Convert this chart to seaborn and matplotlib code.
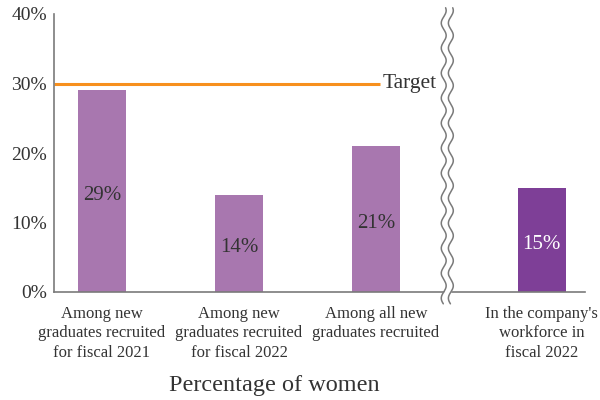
import numpy as np
import pandas as pd
import matplotlib
matplotlib.use("Agg")
import matplotlib.pyplot as plt
import seaborn as sns

categories = [
    "Among new\ngraduates recruited\nfor fiscal 2021",
    "Among new\ngraduates recruited\nfor fiscal 2022",
    "Among all new\ngraduates recruited",
    "In the company's\nworkforce in\nfiscal 2022",
]
values = [29, 14, 21, 15]
target = 30
yticks = [0, 10, 20, 30, 40]
xlabel = "Percentage of women"

light = "#A877AF"
dark = "#7E3F97"
orange = "#F7901E"
axis_gray = "#7a7a7a"
bar_colors = [light, light, light, dark]
text_colors = ["#333333", "#333333", "#333333", "white"]

sns.set_theme(style="white")
plt.rcParams["font.family"] = ["Liberation Serif", "DejaVu Serif"]

# slot positions: the last bar sits past the axis break
slots = [0, 1, 2, 3.21]
df = pd.DataFrame({"slot": slots, "value": values, "cat": categories})

fig = plt.figure(figsize=(6, 4), dpi=100)
ax = fig.add_axes([0.09, 0.27, 0.885, 0.695])

sns.barplot(data=df, x="slot", y="value", hue="cat", palette=bar_colors,
            native_scale=True, width=0.35, legend=False, ax=ax,
            saturation=1, edgecolor="none")

ax.set_xlim(-0.35, 3.525)
ax.set_ylim(0, 40)
ax.set_yticks(yticks)
ax.set_yticklabels([f"{t}%" for t in yticks], fontsize=14, color="#333333")
ax.set_xticks(slots)
ax.set_xticklabels(categories, fontsize=12, color="#333333", linespacing=1.3)
ax.tick_params(axis="y", length=0, pad=5)
ax.tick_params(axis="x", length=0, pad=10)
ax.set_xlabel("")
ax.set_ylabel("")
fig.text(274 / 600, 1 - 385 / 400, xlabel, ha="center", va="center",
         fontsize=17.5, color="#333333")

for side in ["top", "right"]:
    ax.spines[side].set_visible(False)
for side in ["left", "bottom"]:
    ax.spines[side].set_color(axis_gray)
    ax.spines[side].set_linewidth(1.2)

# value labels inside bars
for s, v, c in zip(slots, values, text_colors):
    ax.text(s, v / 2 - 0.6, f"{v}%", ha="center", va="center",
            fontsize=15, color=c)

# target line with label
ax.plot([-0.35, 2.03], [target, target], color=orange, lw=2.2,
        solid_capstyle="butt", clip_on=False)
ax.text(2.045, target, "Target", ha="left", va="center", fontsize=15.5,
        color="#333333")

# wavy axis break
yy = np.linspace(-1.7, 40.9, 400)
amp = 0.018
wave = amp * np.sin(2 * np.pi * yy / 3.6)
xb = 2.52
gap = 0.052
ax.fill_betweenx(yy, xb - gap / 2 + wave, xb + gap / 2 + wave,
                 color="white", zorder=5, clip_on=False, lw=0)
for off in (-gap / 2, gap / 2):
    ax.plot(xb + off + wave, yy, color=axis_gray, lw=1.1, zorder=6,
            clip_on=False)

fig.savefig("out.png", dpi=100)
